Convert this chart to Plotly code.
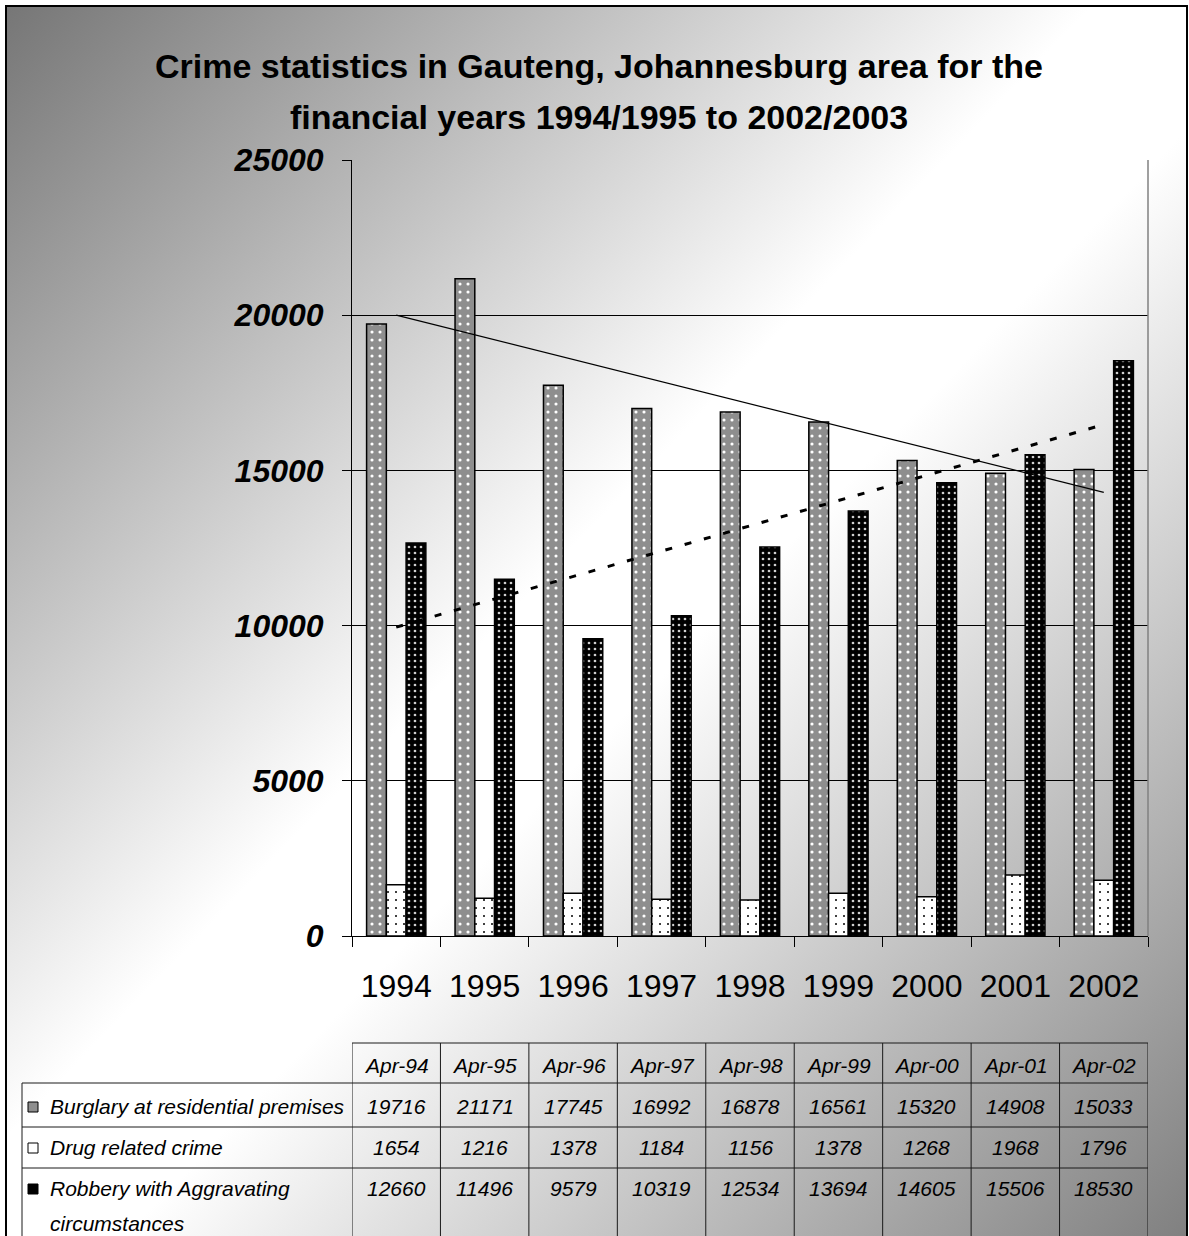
import base64

import numpy as np
import plotly.graph_objects as go

# ---- data -------------------------------------------------------------
years = ["1994", "1995", "1996", "1997", "1998", "1999", "2000", "2001", "2002"]
periods = ["Apr-94", "Apr-95", "Apr-96", "Apr-97", "Apr-98", "Apr-99", "Apr-00", "Apr-01", "Apr-02"]
burglary = [19716, 21171, 17745, 16992, 16878, 16561, 15320, 14908, 15033]
drug = [1654, 1216, 1378, 1184, 1156, 1378, 1268, 1968, 1796]
robbery = [12660, 11496, 9579, 10319, 12534, 13694, 14605, 15506, 18530]
series_names = [
    "Burglary at residential premises",
    "Drug related crime",
    "Robbery with Aggravating circumstances",
]
title_lines = [
    "Crime statistics in Gauteng, Johannesburg area for the",
    "financial years 1994/1995 to 2002/2003",
]
y_ticks = [0, 5000, 10000, 15000, 20000, 25000]

# ---- page geometry (pixels) -------------------------------------------
W, H = 1189, 1236
L, R, T, B = 352, 41, 160, 300
PW = W - L - R
PH = H - T - B
FONT = "Liberation Sans, Arial, sans-serif"


def px(x):
    """page x pixel -> paper fraction"""
    return (x - L) / PW


def py(y):
    """page y pixel -> paper fraction"""
    return (H - B - y) / PH


fig = go.Figure()

# ---- bars -------------------------------------------------------------
bar_styles = [
    dict(bg="#8e8e8e", fg="#ffffff", size=8, solidity=0.12),
    dict(bg="#ffffff", fg="#000000", size=8, solidity=0.05),
    dict(bg="#000000", fg="#cfcfcf", size=6, solidity=0.16),
]
for name, vals, st in zip(series_names, [burglary, drug, robbery], bar_styles):
    fig.add_bar(
        x=years,
        y=vals,
        name=name,
        marker=dict(
            color=st["bg"],
            line=dict(color="#000000", width=1.5),
            pattern=dict(
                shape=".",
                fillmode="replace",
                bgcolor=st["bg"],
                fgcolor=st["fg"],
                size=st["size"],
                solidity=st["solidity"],
            ),
        ),
    )

# ---- linear trend lines -------------------------------------------------
xi = np.arange(len(years))
burg_trend = np.polyval(np.polyfit(xi, burglary, 1), xi)
rob_trend = np.polyval(np.polyfit(xi, robbery, 1), xi)
fig.add_scatter(x=years, y=burg_trend, mode="lines",
                line=dict(color="#000000", width=1.2), name="Burglary trend")
fig.add_scatter(x=years, y=rob_trend, mode="lines",
                line=dict(color="#000000", width=3, dash="7px,13px"), name="Robbery trend")

# ---- background gradient and frame ------------------------------------
gx0, gy0, gx1, gy1 = 6, 6, 1187, 1236
svg = (
    f'<svg xmlns="http://www.w3.org/2000/svg" width="{gx1 - gx0}" height="{gy1 - gy0}" '
    f'viewBox="0 0 {gx1 - gx0} {gy1 - gy0}" preserveAspectRatio="none">'
    '<defs><linearGradient id="g" x1="0" y1="0" x2="1" y2="1">'
    '<stop offset="0" stop-color="#767676"/>'
    '<stop offset="0.46" stop-color="#ffffff"/>'
    '<stop offset="0.55" stop-color="#ffffff"/>'
    '<stop offset="1" stop-color="#808080"/>'
    '</linearGradient></defs>'
    '<rect x="0" y="0" width="100%" height="100%" fill="url(#g)"/></svg>'
)
fig.add_layout_image(
    source="data:image/svg+xml;base64," + base64.b64encode(svg.encode()).decode(),
    xref="paper", yref="paper",
    x=px(gx0), y=py(gy0),
    sizex=(gx1 - gx0) / PW, sizey=(gy1 - gy0) / PH,
    xanchor="left", yanchor="top",
    sizing="stretch", layer="below",
)
shapes = [
    dict(type="rect", xref="paper", yref="paper",
         x0=px(6), x1=px(1187), y0=py(6), y1=py(1260),
         line=dict(color="#000000", width=2), fillcolor="rgba(0,0,0,0)"),
    # right edge of the plot area
    dict(type="line", xref="paper", yref="paper", x0=1, x1=1, y0=0, y1=1,
         line=dict(color="#808080", width=1.5)),
]

# ---- data table below the chart ---------------------------------------
tbl_top, hdr_bot, row1_bot, row2_bot, tbl_bot = 1043, 1083, 1127, 1168, 1260
left_edge = 22
line_style = dict(color="#1a1a1a", width=1)
shapes.append(dict(type="line", xref="paper", yref="paper",
                   x0=0, x1=1, y0=py(tbl_top), y1=py(tbl_top), line=line_style))
for yy in (hdr_bot, row1_bot, row2_bot):
    shapes.append(dict(type="line", xref="paper", yref="paper",
                       x0=px(left_edge), x1=1, y0=py(yy), y1=py(yy), line=line_style))
shapes.append(dict(type="line", xref="paper", yref="paper",
                   x0=px(left_edge), x1=px(left_edge), y0=py(hdr_bot), y1=py(tbl_bot),
                   line=line_style))
for i in range(len(years) + 1):
    shapes.append(dict(type="line", xref="x", yref="paper",
                       x0=i - 0.5, x1=i - 0.5, y0=py(tbl_top), y1=py(tbl_bot),
                       line=line_style))

cell_font = dict(family=FONT, size=21, color="#000000", style="italic")
annotations = []
row_y = [1065, 1106, 1147, 1188]
for i in range(len(years)):
    for yy, txt in zip(row_y, [periods[i], burglary[i], drug[i], robbery[i]]):
        # category axes place annotations by category index
        annotations.append(dict(xref="x", yref="paper", x=i, y=py(yy),
                                text=str(txt), showarrow=False, font=cell_font,
                                xanchor="center", yanchor="middle"))

label_rows = [
    (1106, [series_names[0]]),
    (1147, [series_names[1]]),
    (1188, ["Robbery with Aggravating", "circumstances"]),
]
for yy, parts in label_rows:
    for k, part in enumerate(parts):
        annotations.append(dict(xref="paper", yref="paper", x=px(48), y=py(yy + 35 * k),
                                text=part, showarrow=False, font=cell_font,
                                xanchor="left", yanchor="middle"))

# legend keys inside the table
key_fill = ["#8e8e8e", "#ffffff", "#000000"]
for (yy, _), fill in zip(label_rows, key_fill):
    shapes.append(dict(type="rect", xref="paper", yref="paper",
                       x0=px(28), x1=px(38), y0=py(yy - 4), y1=py(yy + 6),
                       fillcolor=fill, line=dict(color="#000000", width=1)))

# ---- title --------------------------------------------------------------
for k, (line, yy) in enumerate(zip(title_lines, [66, 117])):
    annotations.append(dict(xref="paper", yref="paper", x=px(599), y=py(yy),
                            text=f"<b>{line}</b>", showarrow=False,
                            font=dict(family=FONT, size=34, color="#000000"),
                            xanchor="center", yanchor="middle"))

fig.update_layout(
    width=W, height=H, autosize=False,
    margin=dict(l=L, r=R, t=T, b=B, pad=0),
    paper_bgcolor="#ffffff",
    plot_bgcolor="rgba(0,0,0,0)",
    barmode="group", bargap=0.33, bargroupgap=0,
    showlegend=False,
    hovermode=False,
    shapes=shapes,
    annotations=annotations,
)
fig.update_xaxes(
    type="category", range=[-0.5, len(years) - 0.5], tickson="boundaries",
    ticks="outside", ticklen=10, tickcolor="#000000", tickwidth=1,
    showline=True, linecolor="#000000", linewidth=1,
    showgrid=False, ticklabelstandoff=22, tickangle=0,
    tickfont=dict(family=FONT, size=32, color="#000000"),
)
fig.update_yaxes(
    range=[0, 25000], tickvals=y_ticks, tickformat="d",
    ticks="outside", ticklen=9, tickcolor="#000000", tickwidth=1,
    showline=True, linecolor="#000000", linewidth=1,
    showgrid=True, gridcolor="#000000", gridwidth=1,
    zeroline=False, ticklabelstandoff=12,
    tickfont=dict(family=FONT, size=32, color="#000000", weight="bold", style="italic"),
)

fig.write_html("out.html", config={"displayModeBar": False})
